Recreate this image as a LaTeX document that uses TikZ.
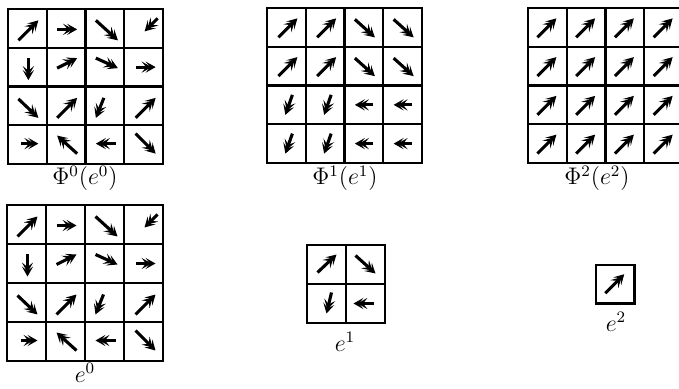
\documentclass[tikz,border=0pt]{standalone}
\usetikzlibrary{arrows.meta}
\begin{document}
\begin{tikzpicture}[x=0.5pt,y=-0.5pt,
  gridline/.style={line width=1.05pt,line cap=rect},
  vec/.style={line width=1.55pt,-{Stealth[length=5pt,width=5.6pt,inset=2.3pt,sep=-3pt]Stealth[length=5pt,width=5.6pt,inset=2.3pt]}},
  lab/.style={anchor=base,inner sep=0pt,font=\fontsize{12}{14}\selectfont}]
\useasboundingbox (0,0) rectangle (679,389);
\clip (0,0) rectangle (679,389);
% #1,#2 origin, #3 cell size, #4 n, #5 macro holding arrows i/j/x1/y1/x2/y2
\newcommand\vecgrid[5]{%
  \begin{scope}[shift={(#1,#2)}]
    \foreach \k in {0,...,#4}{
      \draw[gridline] ({\k*#3},0) -- ({\k*#3},{#4*#3});
      \draw[gridline] (0,{\k*#3}) -- ({#4*#3},{\k*#3});
    }
    \foreach \i/\j/\a/\b/\c/\d in #5
      \draw[vec] ({#3*(\j-0.5)+\a},{#3*(\i-0.5)+\b}) -- ({#3*(\j-0.5)+\c},{#3*(\i-0.5)+\d});
  \end{scope}}
\def\fieldzero{1/1/-9/12/11/-8, 1/2/-9/1/11/1, 1/3/-9/-8/13/12, 1/4/14/-10/1/3,
  2/1/1/-9/1/13, 2/2/-9/1/11/-9, 2/3/-9/-9/13/1, 2/4/-8/0/12/0,
  3/1/-9/-7/11/12, 3/2/-9/12/11/-8, 3/3/-1/-8/-9/12, 3/4/-8/12/12/-8,
  4/1/-6/-1/11/-1, 4/2/11/9/-9/-9, 4/3/11/-1/-9/-1, 4/4/-8/-11/12/9}
\def\fieldone{1/1/-8/10/11/-9, 1/2/-8/10/11/-9, 1/3/-9/-8/11/10, 1/4/-9/-8/11/10,
  2/1/-8/10/11/-9, 2/2/-8/10/11/-9, 2/3/-9/-8/11/10, 2/4/-9/-8/11/10,
  3/1/6/-10/-1/10, 3/2/6/-10/-1/10, 3/3/9/0/-9/0, 3/4/9/0/-9/0,
  4/1/6/-10/-1/10, 4/2/6/-10/-1/10, 4/3/9/0/-9/0, 4/4/9/0/-9/0}
\def\fieldtwo{1/1/-10/10/9/-9, 1/2/-10/10/9/-9, 1/3/-10/10/9/-9, 1/4/-10/10/9/-9,
  2/1/-10/10/9/-9, 2/2/-10/10/9/-9, 2/3/-10/10/9/-9, 2/4/-10/10/9/-9,
  3/1/-10/10/9/-9, 3/2/-10/10/9/-9, 3/3/-10/10/9/-9, 3/4/-10/10/9/-9,
  4/1/-10/10/9/-9, 4/2/-10/10/9/-9, 4/3/-10/10/9/-9, 4/4/-10/10/9/-9}
\def\fieldeone{1/1/-9/8/10/-10, 1/2/-10/-9/10/9, 2/1/5/-11/0/10, 2/2/8/0/-12/0}
\def\fieldetwo{1/1/-10/9/9/-10}
% Phi^0(e^0)
\vecgrid{8}{9}{38.75}{4}{\fieldzero}
% Phi^1(e^1)
\vecgrid{267}{8}{38.75}{4}{\fieldone}
% Phi^2(e^2)
\vecgrid{528}{8}{38.75}{4}{\fieldtwo}
% e^0
\vecgrid{7}{205}{39}{4}{\fieldzero}
% e^1
\vecgrid{307}{245}{39}{2}{\fieldeone}
% e^2
\vecgrid{596}{265}{38.5}{1}{\fieldetwo}
% labels
\node[lab] (l0) at (85,185) {$\Phi^0(e^0)$};
\node[lab] (l1) at (345,185) {$\Phi^1(e^1)$};
\node[lab] (l2) at (597,185) {$\Phi^2(e^2)$};
\node[lab] (m0) at (85,382) {$e^0$};
\node[lab] (m1) at (345,351) {$e^1$};
\node[lab] (m2) at (616,331) {$e^2$};
\end{tikzpicture}
\end{document}
